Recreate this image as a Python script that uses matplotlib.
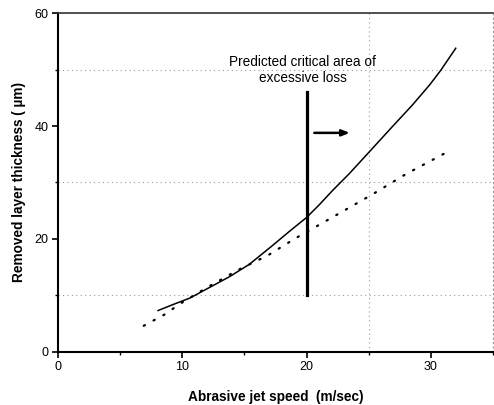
import matplotlib
matplotlib.use("Agg")
import matplotlib.pyplot as plt

plt.rcParams['font.family'] = ['Liberation Sans', 'DejaVu Sans']

# Data
solid_x = [8.05, 9.3, 10.6, 12.2, 13.8, 15.4, 17.3, 18.6, 20.0, 21.0, 22.1,
           23.45, 25.2, 26.9, 28.5, 29.9, 30.8, 32.0]
solid_y = [7.3, 8.4, 9.5, 11.4, 13.3, 15.5, 18.9, 21.3, 23.8, 26.0, 28.6,
           31.6, 35.8, 39.9, 43.7, 47.3, 49.9, 53.8]

dotted_x = [6.9, 8.5, 9.9, 12.0, 14.5, 16.9, 19.1, 21.5, 25.3, 28.0, 31.4]
dotted_y = [4.6, 6.5, 8.6, 11.4, 14.5, 17.1, 20.1, 23.1, 27.9, 31.5, 35.5]

critical_speed = 20
critical_range = [10, 46]
arrow_x = [20.4, 23.7]
arrow_y = 38.8
annot_text = "Predicted critical area of\nexcessive loss"

xticks = [0, 10, 20, 30]
yticks = [0, 20, 40, 60]
grid_y = [10, 30, 50]
grid_x = [25, 35]

fig = plt.figure(figsize=(4.94, 4.05), dpi=100)
ax = fig.add_axes([0.1174, 0.1316, 0.8806, 0.8356])

ax.set_xlim(0, 35)
ax.set_ylim(0, 60)

for gy in grid_y:
    ax.axhline(gy, color='#999999', lw=0.8, ls=(0, (1, 3)), zorder=0)
for gx in grid_x:
    ax.axvline(gx, color='#999999', lw=0.8, ls=(0, (1, 3)), zorder=0)

ax.plot(solid_x, solid_y, color='black', lw=1.1)
ax.plot(dotted_x, dotted_y, color='black', lw=1.6, ls=(0, (0.6, 4.4)),
        dash_capstyle='round')

ax.plot([critical_speed, critical_speed], critical_range, color='black', lw=2.3)
ax.annotate('', xy=(arrow_x[1], arrow_y), xytext=(arrow_x[0], arrow_y),
            arrowprops=dict(arrowstyle='-|>,head_length=0.5,head_width=0.2',
                            color='black', lw=1.8, mutation_scale=9))
ax.text(19.7, 50.0, annot_text, ha='center', va='center', fontsize=9.8,
        linespacing=1.2)

ax.set_xticks(xticks)
ax.set_yticks(yticks)
ax.set_xticks([5, 15, 25, 35], minor=True)
ax.set_yticks([10, 30, 50], minor=True)
ax.tick_params(axis='both', which='major', direction='out', length=4, width=1.2,
               labelsize=9.0, pad=3)
ax.tick_params(axis='both', which='minor', direction='out', length=2.5, width=1.0)

ax.spines['left'].set_linewidth(1.5)
ax.spines['bottom'].set_linewidth(1.5)
ax.spines['top'].set_linewidth(1.2)
ax.spines['top'].set_color('#333333')
ax.spines['right'].set_linewidth(0.8)
ax.spines['right'].set_color('#999999')
ax.spines['right'].set_linestyle((0, (1, 3)))

ax.set_xlabel('Abrasive jet speed  (m/sec)', fontsize=9.8, fontweight='bold',
              labelpad=12)
ax.set_ylabel('Removed layer thickness ( \u00b5m)', fontsize=9.8,
              fontweight='bold', labelpad=6)

fig.savefig('out.png', dpi=100)
